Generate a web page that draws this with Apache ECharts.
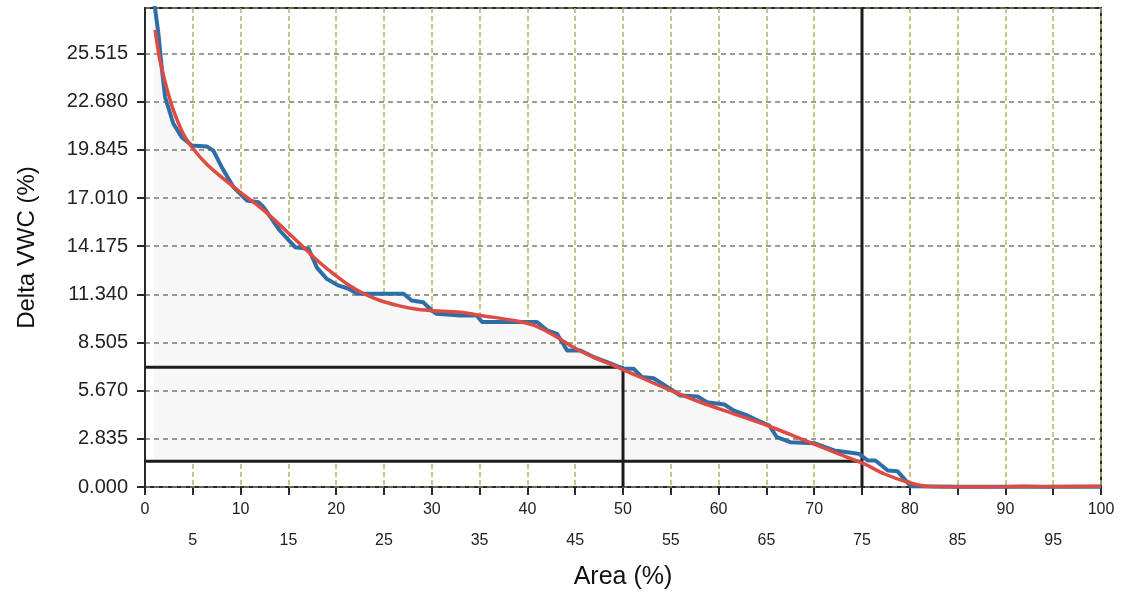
<!DOCTYPE html>
<html>
<head>
<meta charset="utf-8">
<script src="https://cdn.jsdelivr.net/npm/echarts@6/dist/echarts.min.js"></script>
<style>
  html, body { margin: 0; padding: 0; background: #fff; }
  #main { width: 1127px; height: 599px; }
</style>
</head>
<body>
<div id="main"></div>
<script>
// measured curve (blue)
var measuredX = [0.95, 1.4, 1.75, 2.1, 2.96, 3.84, 4.9, 6.46, 7.15, 8.03, 9.25, 10.65, 11.87, 12.4, 14.1, 15.7, 17.1, 18.0, 19.0, 20.2, 21.3, 22.2, 27.05, 27.9, 29.1, 30.0, 30.5, 33.0, 34.7, 35.26, 41.0, 42.06, 43.1, 44.16, 45.55, 46.94, 48.35, 50.1, 51.1, 52.0, 53.2, 54.1, 56.0, 57.8, 58.8, 60.6, 61.6, 63.0, 64.05, 65.3, 66.1, 67.5, 70.0, 72.1, 73.5, 74.7, 75.6, 76.4, 77.7, 78.7, 80.1, 85, 90, 95, 100];
var measuredY = [28.6, 26.7, 24.7, 22.96, 21.4, 20.6, 20.1, 20.05, 19.8, 18.83, 17.66, 16.87, 16.77, 16.48, 15.1, 14.12, 14.03, 12.9, 12.26, 11.87, 11.67, 11.38, 11.38, 10.98, 10.88, 10.39, 10.2, 10.1, 10.1, 9.71, 9.71, 9.22, 9.02, 8.04, 8.04, 7.65, 7.35, 6.96, 6.96, 6.47, 6.4, 6.08, 5.39, 5.33, 4.99, 4.86, 4.5, 4.21, 3.92, 3.62, 2.93, 2.64, 2.58, 2.15, 2.05, 1.95, 1.56, 1.56, 0.97, 0.93, 0.05, 0.02, 0.02, 0.02, 0.02];

// fitted curve (red)
var fitX = [1.05, 1.57, 2.27, 2.96, 4.0, 5.06, 6.46, 8.2, 9.95, 11.7, 13.4, 15.2, 16.8, 18.3, 19.6, 21.1, 22.9, 24.6, 26.4, 28.1, 29.8, 33.0, 35.1, 38.6, 40.7, 42.8, 44.8, 46.9, 49.0, 50.6, 54.6, 58.1, 61.6, 65.1, 68.6, 72.1, 75.2, 77.3, 79.8, 82.0, 86, 90, 92, 94, 100];
var fitY = [26.9, 25.1, 23.5, 22.2, 20.8, 19.9, 19.0, 18.15, 17.36, 16.62, 15.8, 14.85, 14.0, 13.2, 12.6, 11.97, 11.38, 10.98, 10.69, 10.49, 10.39, 10.29, 10.1, 9.8, 9.51, 8.92, 8.23, 7.65, 7.16, 6.76, 5.78, 4.99, 4.31, 3.62, 2.84, 2.05, 1.37, 0.78, 0.28, 0.03, 0.0, 0.02, 0.05, 0.02, 0.04];

// reference lines
var line50 = [[0, 7.05], [50, 7.05], [50, 0]];
var line75h = [[0, 1.52], [75, 1.52]];
var line75v = [[75, 0], [75, 28.2]];
var fillBase = 1.52;

var yStep = 2.835;
var yMax = 28.2;

function pairs(xs, ys) {
    return xs.map(function (x, i) { return [x, ys[i]]; });
}
var measured = pairs(measuredX, measuredY);
var fitted = pairs(fitX, fitY);
var shaded = measured.filter(function (p) { return p[0] <= 75.6; });

var myChart = echarts.init(document.getElementById('main'));

var option = {
    backgroundColor: '#fff',
    animation: false,
    grid: {
        left: 145,
        right: 26,
        top: 8,
        bottom: 112,
        show: true,
        borderColor: '#2a2a2a',
        borderWidth: 2
    },
    xAxis: {
        type: 'value',
        min: 0,
        max: 100,
        interval: 5,
        z: 0,
        name: 'Area (%)',
        nameLocation: 'middle',
        nameGap: 78,
        nameTextStyle: { fontFamily: 'Liberation Sans', fontSize: 25, color: '#111' },
        axisLine: { onZero: false, lineStyle: { color: '#2a2a2a', width: 2 } },
        axisTick: { show: true, length: 8, lineStyle: { color: '#2a2a2a', width: 2 } },
        axisLabel: {
            margin: 7,
            fontFamily: 'Liberation Sans',
            fontSize: 16,
            color: '#222',
            lineHeight: 31,
            formatter: function (v) { return v % 10 === 0 ? String(v) : '\n' + v; }
        },
        splitLine: { show: true, lineStyle: { color: '#b3b56a', type: [5, 3], width: 1.5 } }
    },
    yAxis: {
        type: 'value',
        min: 0,
        max: yMax,
        interval: yStep,
        z: 1.5,
        name: 'Delta VWC (%)',
        nameLocation: 'middle',
        nameGap: 106,
        nameTextStyle: { fontFamily: 'Liberation Sans', fontSize: 24, color: '#111' },
        axisLine: { onZero: false, lineStyle: { color: '#2a2a2a', width: 2 } },
        axisTick: { show: true, length: 8, lineStyle: { color: '#2a2a2a', width: 2 } },
        axisLabel: {
            margin: 17,
            fontFamily: 'Liberation Sans',
            fontSize: 20,
            color: '#222',
            showMaxLabel: false,
            formatter: function (v) { return v.toFixed(3); }
        },
        splitLine: { show: true, lineStyle: { color: '#7d7d66', type: [5, 4], width: 1.5 } }
    },
    series: [
        {
            name: 'shade',
            type: 'line',
            data: shaded,
            z: 1,
            silent: true,
            symbol: 'none',
            lineStyle: { width: 0, opacity: 0 },
            areaStyle: { origin: fillBase, color: '#f7f7f7', opacity: 1 }
        },
        {
            name: 'ref50',
            type: 'line',
            data: line50,
            z: 1.8,
            silent: true,
            symbol: 'none',
            lineStyle: { color: '#1c1c1c', width: 3 }
        },
        {
            name: 'ref75h',
            type: 'line',
            data: line75h,
            z: 1.8,
            silent: true,
            symbol: 'none',
            lineStyle: { color: '#1c1c1c', width: 3 }
        },
        {
            name: 'ref75v',
            type: 'line',
            data: line75v,
            z: 1.8,
            silent: true,
            symbol: 'none',
            lineStyle: { color: '#1c1c1c', width: 3 }
        },
        {
            name: 'measured',
            type: 'line',
            data: measured,
            z: 2,
            symbol: 'none',
            lineStyle: { color: '#2e6ea6', width: 4, join: 'round' }
        },
        {
            name: 'fit',
            type: 'line',
            data: fitted,
            z: 3,
            symbol: 'none',
            smooth: 0.3,
            lineStyle: { color: '#dd4b43', width: 3.5 }
        }
    ]
};

myChart.setOption(option);
</script>
</body>
</html>
